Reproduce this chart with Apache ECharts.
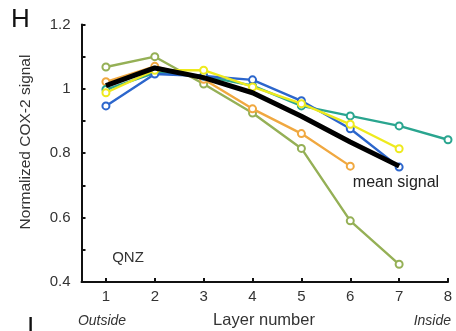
<!DOCTYPE html>
<html><head><meta charset="utf-8">
<script src="https://cdn.jsdelivr.net/npm/echarts@6/dist/echarts.min.js"></script>
<style>html,body{margin:0;padding:0;background:#fff}#c{width:456px;height:331px}</style>
</head><body><div id="c"></div>
<script>
const layers = [1, 2, 3, 4, 5, 6, 7, 8];
const xTicks = [1, 2, 3, 4, 5, 6, 7, 8];
const yTicks = [0.4, 0.6, 0.8, 1.0, 1.2];
const olive  = [1.068, 1.100, 1.015, 0.925, 0.815, 0.590, 0.455];
const orange = [1.022, 1.070, 1.030, 0.938, 0.861, 0.760];
const teal   = [0.998, 1.050, 1.040, 1.010, 0.947, 0.916, 0.885, 0.842];
const blue   = [0.947, 1.046, 1.040, 1.028, 0.963, 0.876, 0.757];
const yellow = [0.988, 1.058, 1.058, 1.006, 0.954, 0.890, 0.814];
const meanSignal = [1.010, 1.065, 1.035, 0.988, 0.915, 0.835, 0.760];

const pairs = arr => arr.map((v, i) => [layers[i], v]);
const font = 'Liberation Sans, Arial, sans-serif';
const colored = (name, data, color, z) => ({
  name, type: 'line', data: pairs(data), z,
  symbol: 'emptyCircle', symbolSize: 7,
  lineStyle: { color, width: 2.4 },
  itemStyle: { color, borderColor: color, borderWidth: 1.8 },
  animation: false
});
const chart = echarts.init(document.getElementById('c'));
chart.setOption({
  animation: false,
  grid: { left: 81.5, right: 8, top: 24.5, bottom: 49 },
  xAxis: {
    type: 'value', min: 0.5, max: 8,
    axisLine: { lineStyle: { color: '#111', width: 2 } },
    axisTick: { inside: true, length: 4, customValues: xTicks, lineStyle: { color: '#111', width: 2 } },
    axisLabel: { customValues: xTicks, color: '#333', fontSize: 15, fontFamily: font, margin: 7 },
    splitLine: { show: false }
  },
  yAxis: {
    type: 'value', min: 0.4, max: 1.2, interval: 0.2,
    axisLine: { show: true, lineStyle: { color: '#111', width: 2 } },
    axisTick: { show: true, inside: true, length: 4, lineStyle: { color: '#111', width: 2 } },
    minorTick: { show: true, splitNumber: 2, length: 4, lineStyle: { color: '#111', width: 2 } },
    axisLabel: { color: '#333', fontSize: 15, fontFamily: font, margin: 11,
      formatter: v => (Math.round(v * 10) / 10).toString() },
    splitLine: { show: false }
  },
  series: [
    colored('olive', olive, '#95b056', 2),
    colored('orange', orange, '#f0a840', 3),
    colored('teal', teal, '#2aa58f', 4),
    colored('blue', blue, '#2c66cc', 5),
    colored('yellow', yellow, '#eeea1e', 6),
    { name: 'mean signal', type: 'line', data: pairs(meanSignal), z: 10,
      symbol: 'none', lineStyle: { color: '#000', width: 5 } }
  ],
  graphic: [
    { type: 'text', x: 11, y: 7, style: { text: 'H', fontSize: 26, fontFamily: font, fill: '#111', verticalAlign: 'top' } },
    { type: 'text', x: 27, y: 315, style: { text: 'I', fontSize: 26, fontFamily: font, fill: '#111', verticalAlign: 'top' } },
    { type: 'text', x: 26, y: 142, rotation: Math.PI / 2, style: { text: 'Normalized COX-2 signal', fontSize: 15.5, fontFamily: font, fill: '#333', align: 'center', verticalAlign: 'middle' } },
    { type: 'text', x: 264, y: 320, style: { text: 'Layer number', fontSize: 16.5, fontFamily: font, fill: '#333', align: 'center', verticalAlign: 'middle' } },
    { type: 'text', x: 102, y: 321, style: { text: 'Outside', fontSize: 14, fontStyle: 'italic', fontFamily: font, fill: '#333', align: 'center', verticalAlign: 'middle' } },
    { type: 'text', x: 451, y: 321, style: { text: 'Inside', fontSize: 14, fontStyle: 'italic', fontFamily: font, fill: '#333', align: 'right', verticalAlign: 'middle' } },
    { type: 'text', x: 128, y: 258, style: { text: 'QNZ', fontSize: 15, fontFamily: font, fill: '#333', align: 'center', verticalAlign: 'middle' } },
    { type: 'text', x: 396, y: 183, style: { text: 'mean signal', fontSize: 16, fontFamily: font, fill: '#222', align: 'center', verticalAlign: 'middle' } }
  ]
});
</script></body></html>
